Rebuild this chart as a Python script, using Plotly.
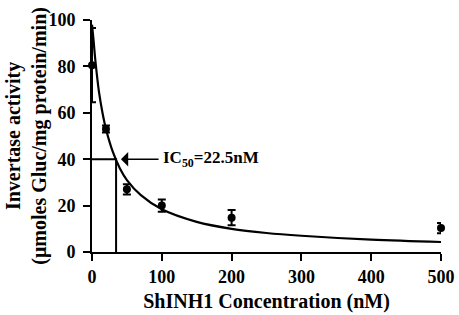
import plotly.graph_objects as go

# Measured data (concentration nM, activity, SEM)
conc = [0, 20, 50, 100, 200, 500]
activity = [80.5, 53, 27, 20, 14.8, 10.3]
err = [16, 1.5, 2.2, 2.6, 3.3, 2.2]

# Fitted curve
curve_x = [0, 2, 5, 10, 15, 20, 30, 40, 50, 70, 100, 150, 200, 250, 300, 400, 500]
curve_y = [98, 92, 82, 69, 60, 53, 43, 36, 31, 24.5, 18.4, 13, 10, 8.2, 7, 5.3, 4.3]

# IC50 guide
ic_x = 34.5
ic_y = 40
ic_label = "IC<sub>50</sub>=22.5nM"

x_ticks = [0, 100, 200, 300, 400, 500]
y_ticks = [0, 20, 40, 60, 80, 100]

FONT = "Times New Roman, Liberation Serif, serif"
fig = go.Figure()

fig.add_trace(go.Scatter(x=[0, ic_x, ic_x], y=[ic_y, ic_y, 0], mode="lines",
                         line=dict(color="black", width=2), hoverinfo="skip", cliponaxis=False))
fig.add_trace(go.Scatter(x=curve_x, y=curve_y, mode="lines", line=dict(color="black", width=2.2, shape="spline"),
                         cliponaxis=False))
fig.add_trace(go.Scatter(x=conc, y=activity, mode="markers",
                         marker=dict(color="black", size=8),
                         error_y=dict(type="data", array=err, color="black", thickness=2, width=4),
                         cliponaxis=False))

fig.add_annotation(x=ic_x + 7, y=ic_y, ax=ic_x + 63, ay=ic_y, axref="x", ayref="y", xref="x", yref="y",
                   text="", showarrow=True, arrowhead=1, arrowsize=1.6, arrowwidth=1.5, arrowcolor="black")
fig.add_annotation(x=ic_x + 64, y=ic_y, xref="x", yref="y", text="<b>" + ic_label + "</b>",
                   showarrow=False, xanchor="left", yanchor="middle",
                   font=dict(family=FONT, size=17, color="black"))

fig.add_annotation(x=-0.19, y=0.5, xref="paper", yref="paper", textangle=-90,
                   text="<b>Invertase activity</b><br><b>(μmoles Gluc/mg protein/min)</b>",
                   showarrow=False, xanchor="center", yanchor="middle",
                   font=dict(family=FONT, size=20, color="black"))

axis_common = dict(showline=True, linecolor="black", linewidth=2, ticks="outside", ticklen=7, tickwidth=2,
                   tickcolor="black", showgrid=False, zeroline=False, automargin=False,
                   tickfont=dict(family=FONT, size=18, color="black"))
fig.update_xaxes(range=[0, 500], tickvals=x_ticks, ticktext=[f"<b>{v}</b>" for v in x_ticks],
                 title=dict(text="<b>ShINH1 Concentration (nM)</b>", font=dict(family=FONT, size=20, color="black"),
                            standoff=8), **axis_common)
fig.update_yaxes(range=[0, 100], tickvals=y_ticks, ticktext=[f"<b>{v}</b>" for v in y_ticks],
                 ticklabelstandoff=4, **axis_common)

fig.update_layout(width=459, height=315, margin=dict(l=92, r=18, t=20, b=63),
                  plot_bgcolor="white", paper_bgcolor="white", showlegend=False)
fig.write_html("out.html", config={"displayModeBar": False},
               post_script="document.body.style.margin='0';")
